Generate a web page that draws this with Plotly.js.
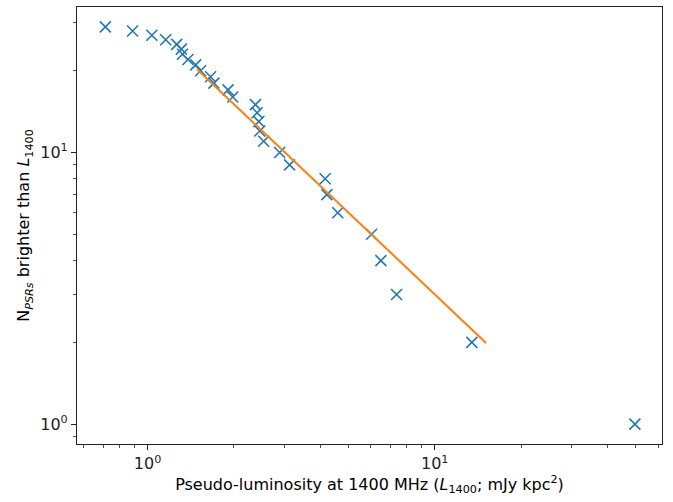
<!DOCTYPE html>
<html>
<head>
<meta charset="utf-8">
<script src="https://cdn.plot.ly/plotly-3.0.1.min.js"></script>
<style>html,body{margin:0;padding:0;background:#fff;}#chart{width:673px;height:502px;}</style>
</head>
<body>
<div id="chart"></div>
<script>
// Pseudo-luminosity of each pulsar (mJy kpc^2), sorted ascending
const luminosity = [0.713, 0.887, 1.035, 1.157, 1.264, 1.312, 1.323, 1.383, 1.471, 1.531,
  1.658, 1.702, 1.907, 1.981, 2.375, 2.407, 2.44, 2.46, 2.538, 2.884,
  3.124, 4.155, 4.211, 4.598, 6.031, 6.497, 7.366, 13.47, 49.8];
// Number of pulsars brighter than L1400
const nBrighter = [29, 28, 27, 26, 25, 24, 23, 22, 21, 20,
  19, 18, 17, 16, 15, 14, 13, 12, 11, 10,
  9, 8, 7, 6, 5, 4, 3, 2, 1];
// Power-law fit line end points
const fitL = [1.49, 15.1];
const fitN = [20.2, 1.99];

const xMinor = [0.6, 0.7, 0.8, 0.9, 2, 3, 4, 5, 6, 7, 8, 9, 20, 30, 40, 50, 60];
const yMinor = [0.9, 2, 3, 4, 5, 6, 7, 8, 9, 20, 30];
const majorVals = [1, 10];
const majorText = ['10<sup>0</sup>', '10<sup>1</sup>'];

const traces = [
  {
    x: luminosity, y: nBrighter, type: 'scatter', mode: 'markers',
    marker: {symbol: 'x-thin', size: 11, color: '#1f77b4', line: {color: '#1f77b4', width: 1.6}},
    hoverinfo: 'skip', showlegend: false
  },
  {
    x: fitL, y: fitN, type: 'scatter', mode: 'lines',
    line: {color: '#ff7f0e', width: 2}, hoverinfo: 'skip', showlegend: false
  }
];

const font = {family: 'DejaVu Sans, sans-serif', size: 16, color: '#000'};
const tickFont = {family: 'DejaVu Sans, sans-serif', size: 16, color: '#222'};
const axisCommon = {
  type: 'log', showgrid: false, zeroline: false,
  showline: true, linecolor: '#222', linewidth: 1.1, mirror: true,
  ticks: 'outside', ticklen: 5, tickwidth: 1, tickcolor: '#222',
  tickmode: 'array', tickvals: majorVals, ticktext: majorText,
  tickfont: tickFont
};

const layout = {
  width: 673, height: 502,
  margin: {l: 77, r: 11, t: 7, b: 58},
  paper_bgcolor: '#fff', plot_bgcolor: '#fff',
  font: font,
  showlegend: false,
  xaxis: Object.assign({}, axisCommon, {
    range: [-0.2456, 1.7916],
    minor: {tickmode: 'array', tickvals: xMinor, ticks: 'outside', ticklen: 3, tickwidth: 0.8, tickcolor: '#222', showgrid: false},
    title: {text: 'Pseudo-luminosity at 1400 MHz (<i>L</i><sub>1400</sub>; mJy kpc<sup>2</sup>)', font: font, standoff: 4}
  }),
  yaxis: Object.assign({}, axisCommon, {
    range: [-0.0731, 1.5355],
    minor: {tickmode: 'array', tickvals: yMinor, ticks: 'outside', ticklen: 3, tickwidth: 0.8, tickcolor: '#222', showgrid: false},
    title: {text: 'N<sub><i>PSRs</i></sub> brighter than <i>L</i><sub>1400</sub>', font: font, standoff: 6}
  })
};

Plotly.newPlot('chart', traces, layout, {staticPlot: true, displayModeBar: false});
</script>
</body>
</html>
